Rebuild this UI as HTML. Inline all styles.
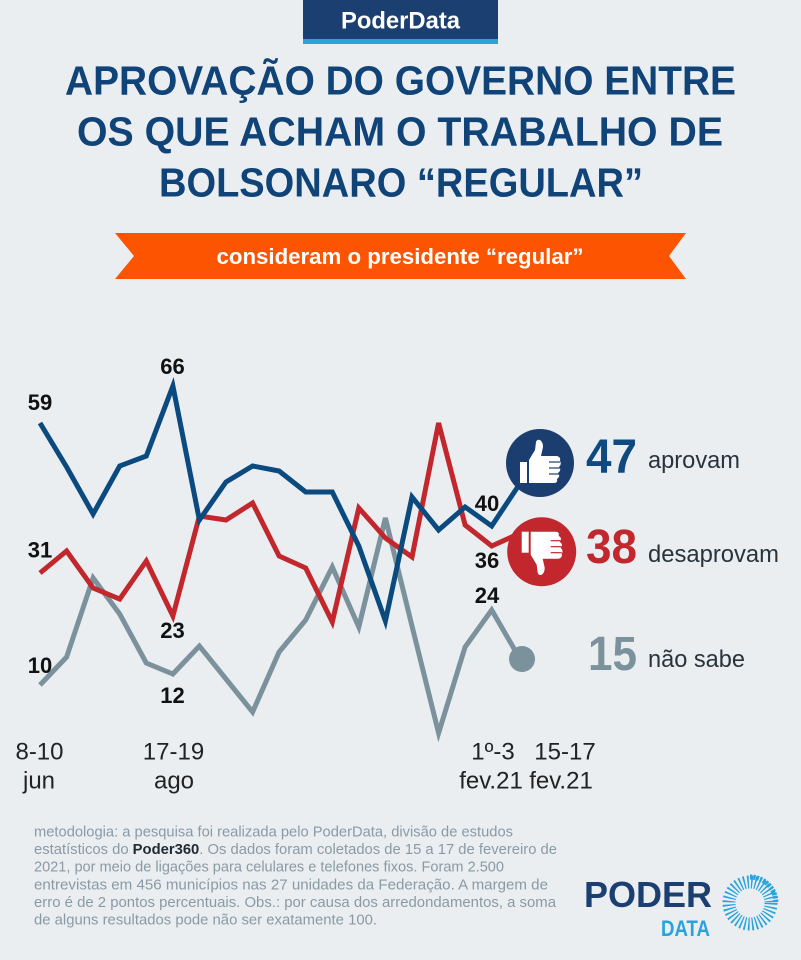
<!DOCTYPE html>
<html>
<head>
<meta charset="utf-8">
<style>
  html,body{margin:0;padding:0;background:#eaeef1;}
  svg{display:block;}
  text{font-family:"Liberation Sans",Arial,sans-serif;}
</style>
</head>
<body>
<svg width="801" height="960" viewBox="0 0 801 960" xmlns="http://www.w3.org/2000/svg">
  <rect x="0" y="0" width="801" height="960" fill="#eaeef1"/>

  <!-- header badge -->
  <rect x="303" y="0" width="195" height="39" fill="#1b3f70"/>
  <rect x="303" y="39" width="195" height="5" fill="#29a3dc"/>
  <text x="400.5" y="28.5" text-anchor="middle" font-size="24" font-weight="bold" fill="#ffffff" textLength="119" lengthAdjust="spacingAndGlyphs">PoderData</text>

  <!-- title -->
  <g font-weight="bold" font-size="41" fill="#104378">
    <text x="65" y="94.5" textLength="671" lengthAdjust="spacingAndGlyphs">APROVAÇÃO DO GOVERNO ENTRE</text>
    <text x="77" y="145.5" textLength="646" lengthAdjust="spacingAndGlyphs">OS QUE ACHAM O TRABALHO DE</text>
    <text x="159" y="196.5" textLength="484" lengthAdjust="spacingAndGlyphs">BOLSONARO “REGULAR”</text>
  </g>

  <!-- orange ribbon -->
  <polygon points="115,233 686,233 669,256 686,279 115,279 134,256" fill="#fd5402"/>
  <text x="400" y="264" text-anchor="middle" font-size="22" font-weight="bold" fill="#ffffff" textLength="367" lengthAdjust="spacingAndGlyphs">consideram o presidente “regular”</text>

  <!-- series -->
  <g fill="none" stroke-width="5" stroke-linejoin="miter" stroke-miterlimit="4">
    <polyline stroke="#7b919c" points="40,685 66.6,657 93.1,578 119.7,614 146.3,663 172.9,674 199.4,646 226,679 252.6,712 279.1,652 305.7,620 332.3,567 358.8,627 385.4,518 412,626 438.6,733 465.1,647 491.7,610 520,659"/>
    <polyline stroke="#c1272d" points="40,573 66.6,551 93.1,588 119.7,599 146.3,561 172.9,616 199.4,516 226,520 252.6,503 279.1,556 305.7,568 332.3,622 358.8,508 385.4,538 412,557 438.6,423 465.1,525 491.7,546 518.3,534"/>
    <polyline stroke="#0b4a7f" points="40,423 66.6,467 93.1,514 119.7,466 146.3,456 172.9,386 199.4,520 226,482 252.6,466 279.1,471 305.7,492 332.3,492 358.8,546 385.4,621 412,497 438.6,530 465.1,507 491.7,526 518.3,486"/>
  </g>

  <!-- end markers -->
  <circle cx="522" cy="659" r="13" fill="#7b919c"/>

  <circle cx="540" cy="463" r="34" fill="#1b3d6f"/>
  <g transform="translate(540,463)" fill="#ffffff">
    <rect x="-20" y="-1" width="7" height="21"/>
    <path d="M-11,-3 L-5,-13 L-4,-21 Q-3,-24 0,-23 Q3,-21 3,-16 L1,-7 L17,-7 Q21,-6 20,-2 Q22,1 19,4 Q22,7 18,10 Q21,13 17,16 Q18,20 14,20 L-11,20 Z"/>
    <g stroke="#1b3d6f" stroke-width="1.2">
      <line x1="9" y1="-1" x2="20" y2="-1"/>
      <line x1="9" y1="5" x2="20" y2="5"/>
      <line x1="9" y1="11" x2="19" y2="11"/>
    </g>
  </g>

  <circle cx="541.7" cy="551.7" r="34.5" fill="#c1272d"/>
  <g transform="translate(541.7,551.7) scale(1,-1)" fill="#ffffff">
    <rect x="-20" y="-1" width="7" height="21"/>
    <path d="M-11,-3 L-5,-13 L-4,-21 Q-3,-24 0,-23 Q3,-21 3,-16 L1,-7 L17,-7 Q21,-6 20,-2 Q22,1 19,4 Q22,7 18,10 Q21,13 17,16 Q18,20 14,20 L-11,20 Z"/>
    <g stroke="#c1272d" stroke-width="1.2">
      <line x1="9" y1="-1" x2="20" y2="-1"/>
      <line x1="9" y1="5" x2="20" y2="5"/>
      <line x1="9" y1="11" x2="19" y2="11"/>
    </g>
  </g>

  <!-- data labels -->
  <g font-size="22" font-weight="bold" fill="#111111" text-anchor="middle">
    <text x="40" y="410">59</text>
    <text x="172.5" y="374">66</text>
    <text x="40" y="557.5">31</text>
    <text x="172.5" y="638">23</text>
    <text x="40" y="673">10</text>
    <text x="172.5" y="703">12</text>
    <text x="487" y="511">40</text>
    <text x="487" y="568">36</text>
    <text x="487" y="603">24</text>
  </g>

  <!-- right legend -->
  <g font-weight="bold" font-size="48">
    <text x="586" y="473" fill="#0e4a80" textLength="51" lengthAdjust="spacingAndGlyphs">47</text>
    <text x="586" y="563" fill="#c1272d" textLength="51" lengthAdjust="spacingAndGlyphs">38</text>
    <text x="588" y="670" fill="#7b919c" textLength="49" lengthAdjust="spacingAndGlyphs">15</text>
  </g>
  <g font-size="24" fill="#2a333b">
    <text x="648" y="468" textLength="92" lengthAdjust="spacingAndGlyphs">aprovam</text>
    <text x="648" y="562" textLength="131" lengthAdjust="spacingAndGlyphs">desaprovam</text>
    <text x="648" y="667" textLength="97" lengthAdjust="spacingAndGlyphs">não sabe</text>
  </g>

  <!-- x axis labels -->
  <g font-size="24" fill="#222222" text-anchor="middle">
    <text x="39.5" y="759.5">8-10</text>
    <text x="39" y="788.5">jun</text>
    <text x="173.5" y="759.5">17-19</text>
    <text x="174" y="788.5">ago</text>
    <text x="493" y="759.5">1º-3</text>
    <text x="491" y="788.5">fev.21</text>
    <text x="565" y="759.5">15-17</text>
    <text x="561" y="788.5">fev.21</text>
  </g>

  <!-- footer -->
  <g font-size="15" fill="#8a9aa5">
    <text x="34" y="836.5" textLength="479" lengthAdjust="spacingAndGlyphs">metodologia: a pesquisa foi realizada pelo PoderData, divisão de estudos</text>
    <text x="34" y="854" textLength="523" lengthAdjust="spacingAndGlyphs">estatísticos do <tspan font-weight="bold" fill="#1f2a33">Poder360</tspan>. Os dados foram coletados de 15 a 17 de fevereiro de</text>
    <text x="34" y="871.7" textLength="470" lengthAdjust="spacingAndGlyphs">2021, por meio de ligações para celulares e telefones fixos. Foram 2.500</text>
    <text x="34" y="889.3" textLength="514" lengthAdjust="spacingAndGlyphs">entrevistas em 456 municípios nas 27 unidades da Federação. A margem de</text>
    <text x="34" y="907" textLength="522" lengthAdjust="spacingAndGlyphs">erro é de 2 pontos percentuais. Obs.: por causa dos arredondamentos, a soma</text>
    <text x="34" y="924.5" textLength="343" lengthAdjust="spacingAndGlyphs">de alguns resultados pode não ser exatamente 100.</text>
  </g>

  <!-- logo -->
  <text x="584" y="907" font-size="36" font-weight="bold" fill="#1b3f70" textLength="128" lengthAdjust="spacingAndGlyphs">PODER</text>
  <text x="661" y="936" font-size="22" font-weight="bold" fill="#29a3dc" textLength="49" lengthAdjust="spacingAndGlyphs">DATA</text>
  <g fill="none" stroke="#29a3dc">
    <circle cx="750" cy="903" r="21" stroke-width="13" stroke-dasharray="1.5 2.2"/>
    <path d="M750,877 A26,26 0 0 1 776,903" stroke-width="5" stroke-dasharray="2.2 1.2"/>
  </g>
</svg>
</body>
</html>
